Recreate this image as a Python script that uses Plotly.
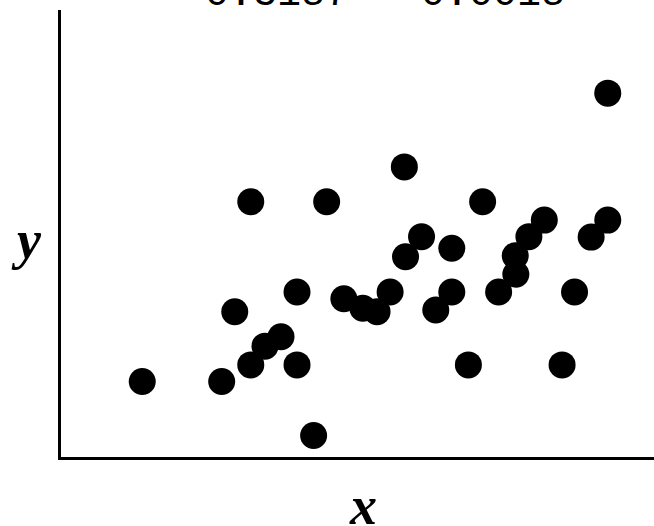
import plotly.graph_objects as go

# Data values (arbitrary units, axis range 0-10)
x_vals = [1.37, 2.71, 3.20, 3.98, 2.93, 3.98, 3.20, 4.48, 5.79, 7.11, 9.22, 4.26,
          3.44, 3.71, 6.87, 8.45, 8.66, 9.22, 8.94, 8.15, 7.89, 7.66, 7.67, 7.38,
          6.59, 6.59, 6.32, 6.08, 5.81, 5.55, 4.77, 5.09, 5.33]
y_vals = [1.69, 1.69, 2.06, 2.06, 3.25, 3.69, 5.71, 5.71, 6.49, 5.71, 8.14, 0.48,
          2.48, 2.69, 2.06, 2.06, 3.69, 5.30, 4.92, 5.30, 4.93, 4.50, 4.09, 3.69,
          4.67, 3.69, 3.29, 4.93, 4.48, 3.69, 3.54, 3.33, 3.25]
title_text = "0.3187   0.0018"
x_label = "x"
y_label = "y"

fig = go.Figure()
fig.add_trace(go.Scatter(
    x=x_vals, y=y_vals, mode="markers",
    marker=dict(size=27, color="black", line=dict(width=0)),
    showlegend=False, cliponaxis=False, hoverinfo="skip",
))

fig.update_layout(
    width=654, height=526,
    margin=dict(l=61, r=0, t=10, b=69),
    paper_bgcolor="white", plot_bgcolor="white",
    xaxis=dict(range=[0, 10], showline=True, linewidth=3, linecolor="black",
               showgrid=False, zeroline=False, showticklabels=False, ticks=""),
    yaxis=dict(range=[0, 10], showline=True, linewidth=3, linecolor="black",
               showgrid=False, zeroline=False, showticklabels=False, ticks=""),
    annotations=[
        dict(text=title_text, xref="paper", yref="paper", x=0.546, y=1,
             xanchor="center", yanchor="middle", yshift=16, showarrow=False,
             font=dict(family="Liberation Mono", size=40, color="black")),
        dict(text=x_label, xref="paper", yref="paper", x=0.51, y=0,
             xanchor="center", yanchor="middle", yshift=-49, showarrow=False,
             font=dict(family="Liberation Serif", size=54, color="black",
                       style="italic", weight="bold")),
        dict(text=y_label, xref="paper", yref="paper", x=0, y=0.485,
             xanchor="center", yanchor="middle", xshift=-35, showarrow=False,
             font=dict(family="Liberation Serif", size=54, color="black",
                       style="italic", weight="bold")),
    ],
)

fig.write_html(
    "out.html",
    config={"displayModeBar": False},
    post_script="document.body.style.margin='0';document.body.style.overflow='hidden';",
)
